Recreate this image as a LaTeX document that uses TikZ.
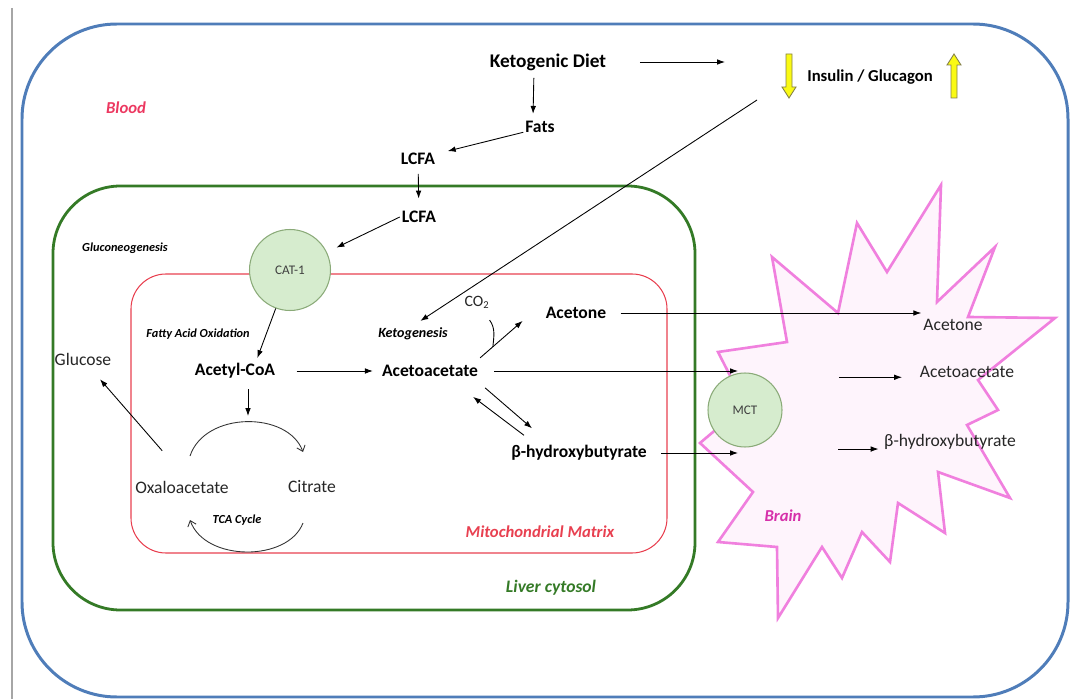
\documentclass[tikz,border=0pt]{standalone}
\usepackage{fontspec}
\setmainfont{Carlito}
\usetikzlibrary{arrows.meta}

\definecolor{bloodblue}{RGB}{79,125,185}
\definecolor{livergreen}{RGB}{52,122,38}
\definecolor{mitored}{RGB}{232,64,80}
\definecolor{bloodtext}{RGB}{236,56,96}
\definecolor{brainpink}{RGB}{240,128,222}
\definecolor{brainfill}{RGB}{254,244,252}
\definecolor{braintext}{RGB}{214,48,170}
\definecolor{carrierfill}{RGB}{214,236,206}
\definecolor{carrierline}{RGB}{138,170,120}
\definecolor{hormone}{RGB}{250,250,20}

\begin{document}
\begin{tikzpicture}[x=0.02cm,y=-0.02cm,
		lbl/.style={inner sep=1pt,font=\fontsize{10}{12}\selectfont\bfseries},
		txt/.style={inner sep=1pt,font=\fontsize{10}{12}\selectfont,text=black!85},
		note/.style={inner sep=1pt,font=\fontsize{7}{8}\selectfont\bfseries\itshape},
		region/.style={inner sep=1pt,font=\fontsize{9.5}{11}\selectfont\bfseries\itshape},
		carrier/.style={circle,draw=carrierline,fill=carrierfill,line width=0.6pt,inner sep=0pt,font=\fontsize{7.5}{9}\selectfont,text=black!75},
		arr/.style={-{Latex[length=4.5pt,width=3.2pt]},line width=0.5pt},
		tcaarc/.style={-{Straight Barb[length=3pt,width=5pt]},line width=0.5pt,black!80},
		yellowarrow/.style={fill=hormone,draw=black!55!yellow,line width=0.5pt}]
		%%%%% START %%%%%
		\useasboundingbox (0,0) rectangle (1072,699);
		\draw[black!35, line width=0.8pt] (12,8) -- (12,699);
		
		% compartments
		\draw[bloodblue, line width=1.7pt, rounded corners=1.9cm] (22,24) rectangle (1068,697);
		\draw[livergreen, line width=1.6pt, rounded corners=1.35cm] (53,186) rectangle (695,610);
		\draw[mitored, line width=0.6pt, rounded corners=0.7cm] (131,274) rectangle (667,553);
		\draw[brainpink, fill=brainfill, line width=1.5pt] (718,352) -- (787,342) -- (772,257) -- (838,313)
			-- (857,223) -- (887,272) -- (941,185) -- (937,302) -- (995,247) -- (968,317) -- (1055,318)
			-- (978,380) -- (998,410) -- (967,425) -- (1010,498) -- (938,472) -- (945,533) -- (898,503)
			-- (890,562) -- (862,532) -- (842,578) -- (822,547) -- (778,618) -- (777,547) -- (718,542)
			-- (753,492) -- (700,443) -- (745,405) -- cycle;
		
		\node[carrier, minimum size=1.62cm] (cat) at (290,270) {CAT-1};
		\node[carrier, minimum size=1.48cm] (mct) at (745,410) {MCT};
		
		% insulin / glucagon
		\draw[yellowarrow] (786,54) -- (792,54) -- (792,87) -- (796,87) -- (789,98) -- (782,87) -- (786,87) -- cycle;
		\draw[yellowarrow] (951,98) -- (957,98) -- (957,65) -- (961,65) -- (954,54) -- (947,65) -- (951,65) -- cycle;
		
		\node[lbl, font=\fontsize{11}{13}\selectfont\bfseries] (keto) at (548,62) {Ketogenic Diet};
		\node[lbl, font=\fontsize{9.5}{11}\selectfont\bfseries] (ins) at (870,77) {Insulin / Glucagon};
		\node[region, text=bloodtext] (blood) at (126,108) {Blood};
		\node[lbl] (fats) at (540,127) {Fats};
		\node[lbl] (lcfa1) at (418,159) {LCFA};
		\node[lbl] (lcfa2) at (419,217) {LCFA};
		\node[note] (gluconeo) at (125,248) {Gluconeogenesis};
		\node[note] (fao) at (198,334) {Fatty Acid Oxidation};
		\node[note, font=\fontsize{8}{9}\selectfont\bfseries\itshape] (ketogen) at (413,334) {Ketogenesis};
		\node[txt, font=\fontsize{9}{11}\selectfont] (co2) at (477,302) {CO\textsubscript{2}};
		\node[lbl] (acetone) at (576,313) {Acetone};
		\node[lbl] (acoa) at (235,371) {Acetyl-CoA};
		\node[lbl] (acac) at (430,371) {Acetoacetate};
		\node[txt] (glc) at (83,359) {Glucose};
		\node[lbl] (bhb) at (579,453) {β-hydroxybutyrate};
		\node[txt] (oxa) at (182,487) {Oxaloacetate};
		\node[txt] (cit) at (312,487) {Citrate};
		\node[note] (tca) at (237,520) {TCA Cycle};
		\node[region, text=mitored] (mito) at (540,532) {Mitochondrial Matrix};
		\node[region, text=livergreen, font=\fontsize{10}{12}\selectfont\bfseries\itshape] (liver) at (551,588) {Liver cytosol};
		\node[txt] (bacetone) at (953,325) {Acetone};
		\node[txt] (bacac) at (967,372) {Acetoacetate};
		\node[txt] (bbhb) at (950,442) {β-hydroxybutyrate};
		\node[region, text=braintext] (brain) at (783,516) {Brain};
		
		\coordinate (dietout) at (725,62);
		\coordinate (hormonein) at (757,100);
		\coordinate (tcain) at (248,416);
		
		% pathway
		\draw[arr, shorten <=18pt] (keto) -- (dietout);
		\draw[arr, shorten <=3pt, shorten >=3pt] ([xshift=-8pt]keto.south) -- ([xshift=-4pt]fats.north);
		\draw[arr] ([yshift=-3pt]fats.west) -- ([xshift=6pt]lcfa1.north east);
		\draw[arr, shorten <=4pt, shorten >=6pt] (lcfa1) -- (lcfa2);
		\draw[arr, shorten >=6pt] (lcfa2.west) -- (cat);
		\draw[arr, shorten >=2pt] (cat) -- ([xshift=12pt]acoa.north);
		\draw[arr, shorten <=11pt, shorten >=4pt] (acoa) -- (acac);
		\draw[arr, shorten >=5pt] (hormonein) -- (ketogen.north);
		\draw[arr] ([yshift=3pt]acac.north east) -- coordinate[pos=0.3] (co2join) ([xshift=-12pt]acetone.south west);
		\draw[line width=0.5pt] ([shift={(-2,10)}]co2.south east) .. controls +(6,8) and +(1,-10) .. (co2join);
		\draw[arr, shorten <=7pt] (acetone.east) -- (acetone.east -| bacetone.north west);
		\draw[arr, shorten <=8pt, shorten >=4pt] (acac.east) -- (acac.east -| mct.north);
		\draw[arr, shorten <=7pt, shorten >=4pt] (bhb.east) -- (bhb.east -| mct.south);
		\draw[arr] ([shift={(5,9)}]acac.south east) -- ([shift={(-47,-15)}]bhb.north);
		\draw[arr] ([shift={(-55,-8)}]bhb.north) -- ([shift={(-7,18)}]acac.south east);
		\draw[arr] ([shift={(29,-28)}]oxa.north west) -- ([shift={(17,12)}]glc.south);
		
		% TCA cycle
		\draw[arr, shorten <=5pt] (acoa.south -| tcain) -- (tcain);
		\draw[tcaarc] ([shift={(8,-31)}]oxa.center) .. controls +(15,-45) and +(-15,-41) .. ([shift={(-9,-35)}]cit.center);
		\draw[tcaarc] ([shift={(-9,36)}]cit.center) .. controls +(-15,39) and +(15,42) .. ([shift={(8,33)}]oxa.center);
		
		% brain
		\draw[arr] ([xshift=-45pt,yshift=-3pt]bacac.west) -- ([xshift=-9pt,yshift=-3pt]bacac.west);
		\draw[arr] ([xshift=-25pt,yshift=-4pt]bbhb.west) -- ([xshift=-2pt,yshift=-4pt]bbhb.west);
		%%%%% END %%%%%
	\end{tikzpicture}
\end{document}
